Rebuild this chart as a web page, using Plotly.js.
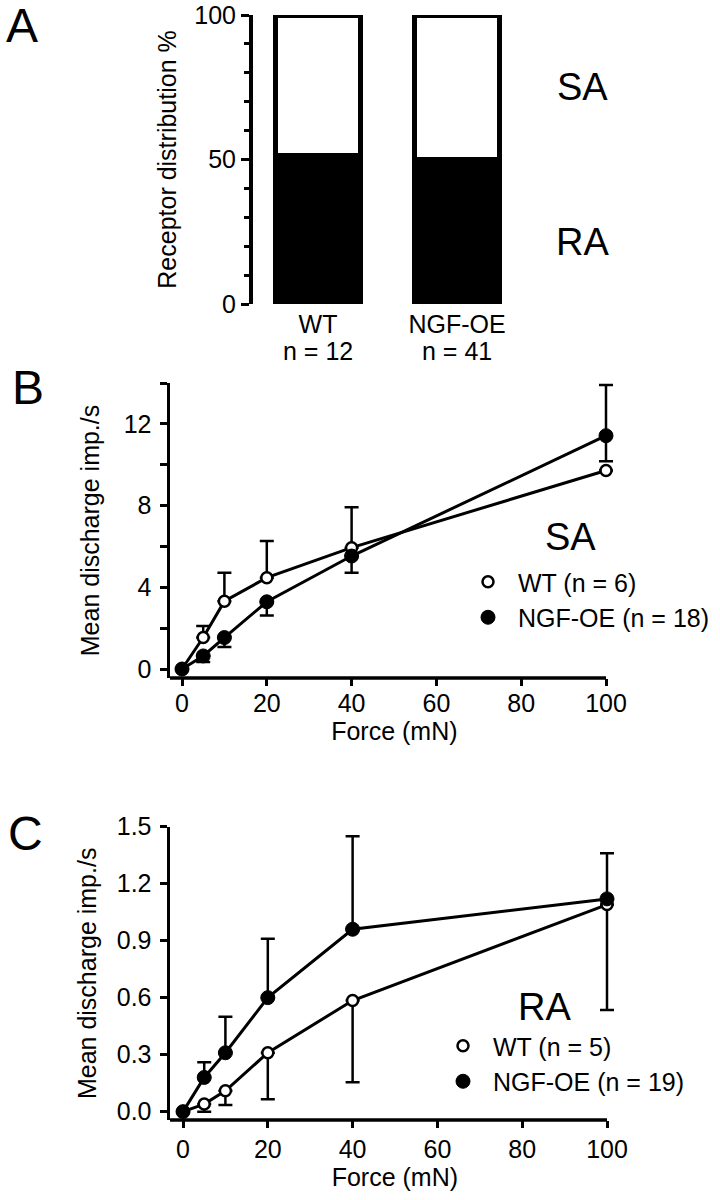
<!DOCTYPE html>
<html>
<head>
<meta charset="utf-8">
<script src="https://cdn.plot.ly/plotly-3.0.1.min.js"></script>
<style>html,body{margin:0;padding:0;background:#fff;}#chart{width:720px;height:1200px;}</style>
</head>
<body>
<div id="chart"></div>
<script>
// ---- Panel A: receptor distribution ----
const groups = ["WT", "NGF-OE"];
const groupN = [12, 41];
const raPercent = [51.3, 50.1];
const saPercent = [48.7, 49.9];

// ---- Panel B: SA units ----
const forceSA = [0, 5, 10, 20, 40, 100];
const saWT = [0, 1.54, 3.32, 4.47, 5.94, 9.72];
const saWTErrPlus = [null, 0.56, 1.39, 1.80, 1.98, null];
const saWTErrMinus = [null, 0, 0, 0, 0, null];
const saNGF = [0, 0.64, 1.54, 3.29, 5.53, 11.42];
const saNGFErrPlus = [null, 0, 0, 0, 0, 2.48];
const saNGFErrMinus = [null, 0.30, 0.46, 0.67, 0.82, 1.25];
const saWTn = 6, saNGFn = 18;

// ---- Panel C: RA units ----
const forceRA = [0, 5, 10, 20, 40, 100];
const raWT = [0, 0.04, 0.11, 0.31, 0.585, 1.09];
const raWTErrPlus = [null, 0, 0, 0, 0, 0];
const raWTErrMinus = [null, 0.04, 0.075, 0.245, 0.43, 0.555];
const raNGF = [0, 0.18, 0.31, 0.60, 0.96, 1.12];
const raNGFErrPlus = [null, 0.08, 0.19, 0.31, 0.49, 0.24];
const raNGFErrMinus = [null, 0, 0, 0, 0, 0];
const raWTn = 5, raNGFn = 19;

// axis extents
const forceAxisMax = 100;
const xRangeB = [-2.83, 103];
const xRangeC = [-3.07, 103];

const FONT = "Liberation Sans, Arial, Helvetica, sans-serif";
const W = 720, H = 1200;
const px = v => v / W;
const py = v => 1 - v / H;

const openMarker = {symbol: "circle", size: 11, color: "#fff", line: {color: "#000", width: 2.5}};
const fillMarker = {symbol: "circle", size: 14, color: "#000", line: {color: "#000", width: 1}};
const lineStyle = {color: "#000", width: 3};

function errY(plus, minus) {
  return {type: "data", symmetric: false, array: plus, arrayminus: minus,
          color: "#000", thickness: 2.5, width: 7};
}

const traces = [
  // Panel A stacked bars
  {type: "bar", x: groups, y: raPercent, xaxis: "x", yaxis: "y", width: 0.61,
   marker: {color: "#000", line: {color: "#000", width: 5}}, showlegend: false, hoverinfo: "skip"},
  {type: "bar", x: groups, y: saPercent, xaxis: "x", yaxis: "y", width: 0.61,
   marker: {color: "#fff", line: {color: "#000", width: 5}}, showlegend: false, hoverinfo: "skip"},

  // Panel B lines
  {type: "scatter", mode: "lines", x: forceSA, y: saWT, xaxis: "x2", yaxis: "y2", line: lineStyle,
   showlegend: false, cliponaxis: false},
  {type: "scatter", mode: "lines", x: forceSA, y: saNGF, xaxis: "x2", yaxis: "y2", line: lineStyle,
   showlegend: false, cliponaxis: false},
  // Panel B markers + error bars
  {type: "scatter", mode: "markers", x: forceSA, y: saWT, xaxis: "x2", yaxis: "y2", cliponaxis: false,
   marker: openMarker, error_y: errY(saWTErrPlus, saWTErrMinus),
   name: "WT (n = " + saWTn + ")", legend: "legend"},
  {type: "scatter", mode: "markers", x: forceSA, y: saNGF, xaxis: "x2", yaxis: "y2", cliponaxis: false,
   marker: fillMarker, error_y: errY(saNGFErrPlus, saNGFErrMinus),
   name: "NGF-OE (n = " + saNGFn + ")", legend: "legend"},

  // Panel C lines
  {type: "scatter", mode: "lines", x: forceRA, y: raWT, xaxis: "x3", yaxis: "y3", line: lineStyle,
   showlegend: false, cliponaxis: false},
  {type: "scatter", mode: "lines", x: forceRA, y: raNGF, xaxis: "x3", yaxis: "y3", line: lineStyle,
   showlegend: false, cliponaxis: false},
  // Panel C markers + error bars
  {type: "scatter", mode: "markers", x: forceRA, y: raWT, xaxis: "x3", yaxis: "y3", cliponaxis: false,
   marker: openMarker, error_y: errY(raWTErrPlus, raWTErrMinus),
   name: "WT (n = " + raWTn + ")", legend: "legend2"},
  {type: "scatter", mode: "markers", x: forceRA, y: raNGF, xaxis: "x3", yaxis: "y3", cliponaxis: false,
   marker: fillMarker, error_y: errY(raNGFErrPlus, raNGFErrMinus),
   name: "NGF-OE (n = " + raNGFn + ")", legend: "legend2"}
];

const tickFont = {family: FONT, size: 25, color: "#000"};
const titleFont = {family: FONT, size: 25, color: "#000"};

const commonAxis = {
  showline: true, linecolor: "#000", linewidth: 3.5, ticks: "outside", ticklen: 7,
  tickwidth: 3, tickcolor: "#000", showgrid: false, zeroline: false, tickfont: tickFont,
  fixedrange: true
};

const legendBase = {xanchor: "left", yanchor: "top", bgcolor: "rgba(0,0,0,0)", traceorder: "normal",
  font: {family: FONT, size: 25, color: "#000"}, itemwidth: 50, tracegroupgap: 0, borderwidth: 0};

// x axis lines for B and C end at the 100 mN tick
function xAxisLine(xref, yref, x0) {
  return {type: "line", xref: xref, yref: yref + " domain", x0: x0, x1: forceAxisMax,
          y0: 0, y1: 0, line: {color: "#000", width: 3.5}, layer: "above"};
}

const layout = {
  width: W, height: H, autosize: false,
  margin: {l: 0, r: 0, t: 0, b: 0, pad: 0},
  paper_bgcolor: "#fff", plot_bgcolor: "rgba(0,0,0,0)",
  font: {family: FONT, color: "#000"},
  barmode: "stack", bargap: 0,
  showlegend: true,
  // Panel A
  xaxis: {domain: [px(253), px(700)], range: [-0.468, 2.748], type: "category",
          showline: false, ticks: "", showgrid: false, zeroline: false, tickfont: tickFont,
          anchor: "y", ticklabelstandoff: 3, fixedrange: true},
  yaxis: Object.assign({}, commonAxis, {
          domain: [py(304), py(15)], range: [0, 100], tickmode: "linear", tick0: 0, dtick: 50,
          ticklen: 8, linewidth: 4, anchor: "x",
          minor: {dtick: 10, ticklen: 5, tickwidth: 3, tickcolor: "#000", ticks: "outside"},
          title: {text: "Receptor distribution %", font: titleFont, standoff: 12}}),
  // Panel B
  xaxis2: Object.assign({}, commonAxis, {
          domain: [px(170), px(606 + 3 * 4.24)], range: xRangeB, tickmode: "array",
          tickvals: [0, 20, 40, 60, 80, 100], showline: false,
          anchor: "y2", ticklabelstandoff: -4, title: {text: "Force (mN)", font: titleFont, standoff: 4}}),
  yaxis2: Object.assign({}, commonAxis, {
          domain: [py(678), py(383)], range: [-0.44, 14], tickmode: "linear", tick0: 0, dtick: 4,
          anchor: "x2", ticklabelstandoff: 3,
          minor: {dtick: 2, ticklen: 7, tickwidth: 3, tickcolor: "#000", ticks: "outside"},
          title: {text: "Mean discharge imp./s", font: titleFont, standoff: 18}}),
  // Panel C
  xaxis3: Object.assign({}, commonAxis, {
          domain: [px(170), px(607 + 3 * 4.24)], range: xRangeC, tickmode: "array",
          tickvals: [0, 20, 40, 60, 80, 100], showline: false,
          anchor: "y3", title: {text: "Force (mN)", font: titleFont, standoff: 6}}),
  yaxis3: Object.assign({}, commonAxis, {
          domain: [py(1120), py(826.7)], range: [-0.044, 1.5], tickmode: "linear", tick0: 0, dtick: 0.3,
          tickformat: ".1f", anchor: "x3", ticklabelstandoff: 3,
          title: {text: "Mean discharge imp./s", font: titleFont, standoff: 14}}),
  legend: Object.assign({}, legendBase, {x: px(458), y: py(559)}),
  legend2: Object.assign({}, legendBase, {x: px(433), y: py(1023)}),
  shapes: [xAxisLine("x2", "y2", xRangeB[0]), xAxisLine("x3", "y3", xRangeC[0])],
  annotations: [
    {text: "A", xref: "paper", yref: "paper", x: px(22), y: py(25), showarrow: false,
     xanchor: "center", yanchor: "middle", font: {family: FONT, size: 48, color: "#000"}},
    {text: "B", xref: "paper", yref: "paper", x: px(28), y: py(388), showarrow: false,
     xanchor: "center", yanchor: "middle", font: {family: FONT, size: 48, color: "#000"}},
    {text: "C", xref: "paper", yref: "paper", x: px(26), y: py(833), showarrow: false,
     xanchor: "center", yanchor: "middle", font: {family: FONT, size: 48, color: "#000"}},
    {text: "SA", xref: "paper", yref: "paper", x: px(582), y: py(87), showarrow: false,
     xanchor: "center", yanchor: "middle", font: {family: FONT, size: 38, color: "#000"}},
    {text: "RA", xref: "paper", yref: "paper", x: px(582), y: py(242), showarrow: false,
     xanchor: "center", yanchor: "middle", font: {family: FONT, size: 38, color: "#000"}},
    {text: "SA", xref: "paper", yref: "paper", x: px(570), y: py(537), showarrow: false,
     xanchor: "center", yanchor: "middle", font: {family: FONT, size: 38, color: "#000"}},
    {text: "RA", xref: "paper", yref: "paper", x: px(544), y: py(1007), showarrow: false,
     xanchor: "center", yanchor: "middle", font: {family: FONT, size: 38, color: "#000"}}
  ].concat(groups.map((g, i) => ({
     text: "n = " + groupN[i], xref: "x", yref: "paper", x: g, y: py(351), showarrow: false,
     xanchor: "center", yanchor: "middle", font: {family: FONT, size: 25, color: "#000"}
  })))
};

Plotly.newPlot("chart", traces, layout, {staticPlot: true, displayModeBar: false});
</script>
</body>
</html>
